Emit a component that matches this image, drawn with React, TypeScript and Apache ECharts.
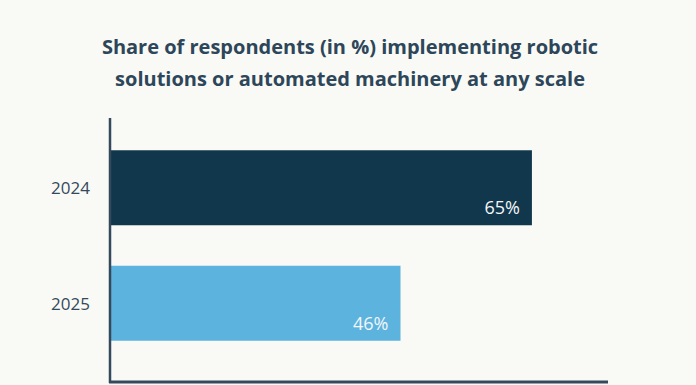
import React, { useEffect, useRef } from "react";
import * as echarts from "echarts";

const titleLines = [
  "Share of respondents (in %) implementing robotic",
  "solutions or automated machinery at any scale",
];
const categories = ["2024", "2025"];
const values = [65, 46];
const barColors = ["#10374c", "#5cb3de"];

export default function App() {
  const ref = useRef<HTMLDivElement>(null);
  useEffect(() => {
    document.body.style.margin = "0";
    const chart = echarts.init(ref.current!, null, { renderer: "svg" });
    chart.setOption({
      animation: false,
      backgroundColor: "#f9f9f5",
      textStyle: { fontFamily: "Open Sans" },
      title: {
        text: titleLines.join("\n"),
        left: 345,
        textAlign: "center",
        top: 25,
        textStyle: {
          fontFamily: "Open Sans",
          fontSize: 20,
          fontWeight: "bold",
          color: "#2d4659",
          lineHeight: 32,
        },
      },
      grid: { left: 110, top: 130, width: 498, height: 231 },
      xAxis: {
        type: "value",
        min: 4,
        max: 76,
        show: false,
      },
      yAxis: {
        type: "category",
        data: categories,
        inverse: true,
        axisLine: { show: false },
        axisTick: { show: false },
        axisLabel: {
          margin: 20,
          fontSize: 17,
          color: "#34495c",
          fontFamily: "Open Sans",
        },
      },
      series: [
        {
          type: "bar",
          barWidth: 75,
          clip: true,
          data: values.map((v, i) => ({ value: v, itemStyle: { color: barColors[i] } })),
          label: {
            show: true,
            position: "insideBottomRight",
            distance: 9,
            offset: [-3, 0],
            formatter: "{c}%",
            color: "#f4f6f8",
            fontSize: 18,
            fontFamily: "Open Sans",
          },
        },
      ],
      graphic: [
        {
          type: "line",
          shape: { x1: 110, y1: 118, x2: 110, y2: 383 },
          style: { stroke: "#34495c", lineWidth: 2.5 },
          z: 10,
        },
        {
          type: "line",
          shape: { x1: 109, y1: 382, x2: 608, y2: 382 },
          style: { stroke: "#34495c", lineWidth: 3 },
          z: 10,
        },
      ],
    });
    return () => chart.dispose();
  }, []);
  return (
    <div
      ref={ref}
      style={{ width: 696, height: 385, position: "absolute", left: 0, top: 0 }}
    />
  );
}
